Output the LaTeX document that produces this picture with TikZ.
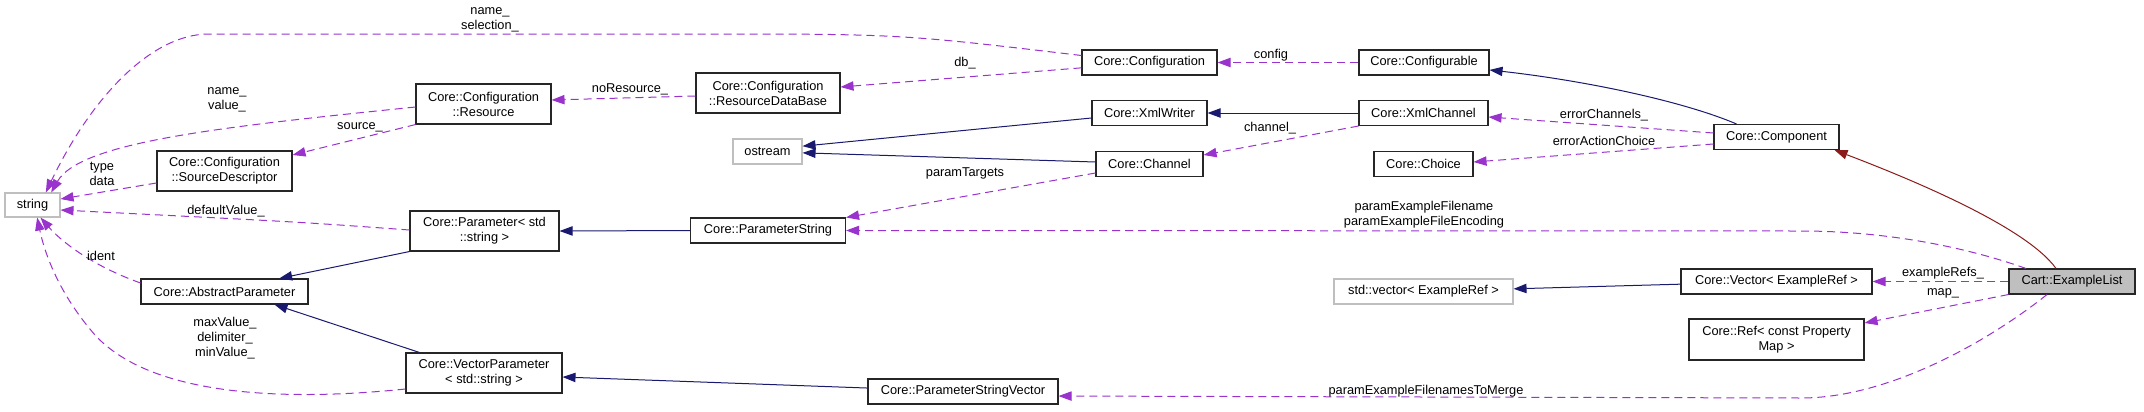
\documentclass[tikz,border=0pt]{standalone}
\usepackage{fontspec}
\setmainfont{Liberation Sans}
\usetikzlibrary{arrows.meta}
\definecolor{usepurple}{RGB}{154,50,205}
\definecolor{inhnavy}{RGB}{25,25,112}
\definecolor{protred}{RGB}{139,26,26}
\definecolor{extgray}{RGB}{191,191,191}

\begin{document}
\begin{tikzpicture}[
  x=0.75pt, y=-0.75pt,
  box/.style={rectangle, draw=black!85, line width=0.8pt, align=center,
              inner sep=1pt, font=\fontsize{9.6}{11.2}\selectfont,
              minimum height=18.75pt},
  gbox/.style={box, draw=extgray},
  lbl/.style={align=center, inner sep=0pt, text=black,
              font=\fontsize{9.6}{11.2}\selectfont},
  uses/.style={-{Triangle[length=9.75pt, width=7pt]}, color=usepurple,
               line width=0.75pt, dash pattern=on 6pt off 3.75pt},
  inh/.style={-{Triangle[length=9.75pt, width=7pt]}, color=inhnavy,
              line width=0.75pt},
  prot/.style={inh, color=protred}
]
\useasboundingbox (0,0) rectangle (2144,411);

\node[gbox, minimum width=41.25pt, minimum height=18pt] (string) at (32.5,205) {string};
\node[box, minimum width=101.25pt, minimum height=30pt] (srcdesc) at (224.5,171) {Core::Configuration\\::SourceDescriptor};
\node[box, minimum width=101.25pt, minimum height=30pt] (resource) at (483.5,104) {Core::Configuration\\::Resource};
\node[box, minimum width=111.75pt, minimum height=30pt] (param) at (484.5,231) {Core::Parameter< std\\::string >};
\node[box, minimum width=125.25pt] (absparam) at (224.5,291.5) {Core::AbstractParameter};
\node[box, minimum width=117pt, minimum height=30pt] (vecparam) at (484,373) {Core::VectorParameter\\< std::string >};
\node[box, minimum width=108pt, minimum height=30pt] (resdb) at (768,93) {Core::Configuration\\::ResourceDataBase};
\node[gbox, minimum width=51.75pt] (ostream) at (767.5,151.5) {ostream};
\node[box, minimum width=116.25pt] (paramstr) at (768,230.5) {Core::ParameterString};
\node[box, minimum width=142.5pt] (paramstrvec) at (963,391.5) {Core::ParameterStringVector};
\node[box, minimum width=101.25pt] (config) at (1149.5,62.5) {Core::Configuration};
\node[box, minimum width=86.25pt] (xmlwriter) at (1149.5,113) {Core::XmlWriter};
\node[box, minimum width=80.25pt] (channel) at (1149.5,164) {Core::Channel};
\node[box, minimum width=97.5pt] (configurable) at (1424,62.5) {Core::Configurable};
\node[box, minimum width=96.75pt] (xmlchannel) at (1423.5,113) {Core::XmlChannel};
\node[box, minimum width=74.25pt] (choice) at (1423.5,164) {Core::Choice};
\node[gbox, minimum width=134.25pt] (stdvec) at (1423.5,291.5) {std::vector< ExampleRef >};
\node[box, minimum width=93.75pt] (component) at (1776.5,137) {Core::Component};
\node[box, minimum width=143.25pt] (vector) at (1776.5,281.5) {Core::Vector< ExampleRef >};
\node[box, minimum width=131.25pt, minimum height=30.75pt] (ref) at (1776.5,339.5) {Core::Ref< const Property\\Map >};
\node[box, fill=extgray, minimum width=94.5pt] (examplelist) at (2072,281.5) {Cart::ExampleList};

\draw[uses] ([yshift=5.25pt]config.west) .. controls (900,34) .. (700,34) -- (209,34)
  .. controls (150,34) and (90,100) .. ([xshift=10pt]string.north)
  node[lbl] at (490,20) {name\_\\selection\_};
\draw[uses] ([yshift=-2.25pt]resource.west) .. controls (220,127) and (80,142) .. ([xshift=14pt]string.north)
  node[lbl] at (227,100) {name\_\\value\_};
\draw[uses] (resource.south west) -- ([yshift=12pt]srcdesc.east)
  node[lbl] at (360,127) {source\_};
\draw[uses] ([yshift=-2.25pt]resdb.west) -- ([yshift=3pt]resource.east)
  node[lbl] at (630,89) {noResource\_};
\draw[uses] ([yshift=-4pt]config.west) -- ([yshift=4.5pt]resdb.east)
  node[lbl] at (965,63) {db\_};
\draw[uses] (configurable.west) -- (config.east)
  node[lbl] at (1271,55) {config};
\draw[uses] ([yshift=-9pt]srcdesc.west) -- ([yshift=4.5pt]string.east)
  node[lbl] at (102,174) {type\\data};
\draw[uses] ([yshift=0.75pt]param.west) .. controls (300,222) .. ([yshift=-3.75pt]string.east)
  node[lbl] at (226,211) {defaultValue\_};
\draw[uses] ([yshift=6.4pt]absparam.west) .. controls (90,265) and (60,240) .. ([xshift=6pt]string.south)
  node[lbl] at (101,256) {ident};
\draw[uses] ([yshift=-12pt]vecparam.west) .. controls (280,402) and (150,395) .. (95,335)
  .. controls (60,295) and (45,255) .. ([xshift=3.5pt]string.south)
  node[lbl] at (225,338) {maxValue\_\\delimiter\_\\minValue\_};

\draw[inh] (param.south west) -- ([xshift=41pt]absparam.north);
\draw[inh] ([xshift=10.5pt]vecparam.north west) -- ([xshift=37.5pt]absparam.south);
\draw[inh] (paramstr.west) -- (param.east);
\draw[inh] ([yshift=2.6pt]paramstrvec.west) -- ([yshift=-3pt]vecparam.east);
\draw[inh] ([yshift=-3.75pt]xmlwriter.west) -- ([yshift=4pt]ostream.east);
\draw[inh] ([yshift=1.5pt]channel.west) -- ([yshift=-1pt]ostream.east);
\draw[inh] (xmlchannel.west) -- (xmlwriter.east);
\draw[inh] ([xshift=-30pt]component.north) .. controls (1680,100) and (1580,80) .. ([yshift=-5.6pt]configurable.east);
\draw[inh] ([yshift=-2pt]vector.west) -- ([yshift=2pt]stdvec.east);
\draw[prot] ([xshift=-12pt]examplelist.north) .. controls (2025,225) and (1900,175) .. ([xshift=43.5pt]component.south);

\draw[uses] ([yshift=-6.75pt]channel.west) -- (paramstr.north east)
  node[lbl] at (965,173) {paramTargets};
\draw[uses] (xmlchannel.south west) -- ([yshift=6.75pt]channel.east)
  node[lbl] at (1270,128) {channel\_};
\draw[uses] ([yshift=3pt]component.west) -- ([yshift=-3pt]xmlchannel.east)
  node[lbl] at (1604,115) {errorChannels\_};
\draw[uses] ([yshift=-5.25pt]component.west) -- ([yshift=1.5pt]choice.east)
  node[lbl] at (1604,141) {errorActionChoice};
\draw[uses] ([xshift=-34.5pt]examplelist.north) .. controls (1960,245) and (1880,231) .. (1801,231) -- (paramstr.east)
  node[lbl] at (1424,215) {paramExampleFilename\\paramExampleFileEncoding};
\draw[uses] (examplelist.west) -- (vector.east)
  node[lbl] at (1943,273) {exampleRefs\_};
\draw[uses] (examplelist.south west) -- ([yshift=12.4pt]ref.east)
  node[lbl] at (1943,293) {map\_};
\draw[uses] ([xshift=-18.75pt]examplelist.south) .. controls (1990,340) and (1890,398) .. (1801,398) -- ([yshift=-3.4pt]paramstrvec.east)
  node[lbl] at (1426,391) {paramExampleFilenamesToMerge};
\end{tikzpicture}
\end{document}
